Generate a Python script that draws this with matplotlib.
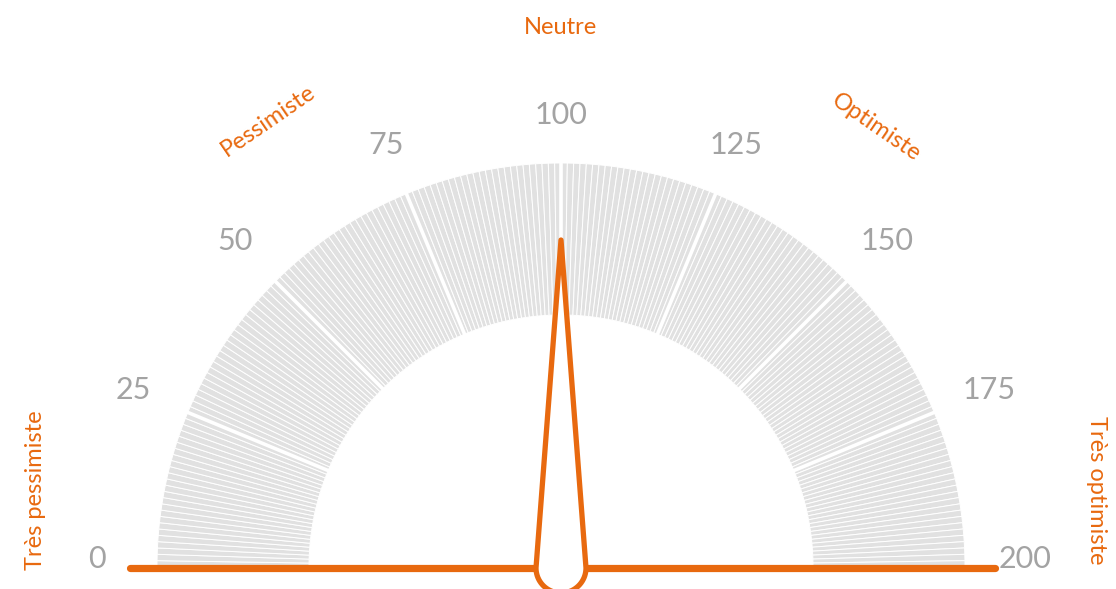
import numpy as np
import matplotlib
matplotlib.use("Agg")
import matplotlib.pyplot as plt
from matplotlib.patches import Wedge, PathPatch
from matplotlib.path import Path

# gauge data
gauge_min, gauge_max = 0, 200
tick_values = [0, 25, 50, 75, 100, 125, 150, 175, 200]
needle_value = 100
zone_labels = ["Très pessimiste", "Pessimiste", "Neutre", "Optimiste", "Très optimiste"]
zone_values = [9.2, 63, 100, 139.6, 190.9]

ORANGE = "#e8690f"
GRAY_TXT = "#a3a3a3"
GRAY_FILL = "#e1e1e1"

plt.rcParams["font.family"] = ["Lato", "DejaVu Sans"]


def val2ang(v):
    return 180.0 * (1 - (v - gauge_min) / (gauge_max - gauge_min))


fig = plt.figure(figsize=(11.16, 5.89), dpi=100)
ax = fig.add_axes([0, 0, 1, 1])
ax.set_xlim(-561, 555)
ax.set_ylim(-22, 567)
ax.set_aspect("equal")
ax.axis("off")

r_in, r_out = 252, 404

# fine wedges, one per unit
for v in range(gauge_min, gauge_max):
    a1, a0 = val2ang(v), val2ang(v + 1)
    ax.add_patch(Wedge((0, 0), r_out, a0, a1, width=r_out - r_in,
                       facecolor=GRAY_FILL, edgecolor="white", linewidth=0.7))

# wider separators at ticks
for v in tick_values[1:-1]:
    a = np.deg2rad(val2ang(v))
    ax.plot([r_in * np.cos(a) * 0.98, r_out * np.cos(a) * 1.01],
            [r_in * np.sin(a) * 0.98, r_out * np.sin(a) * 1.01],
            color="white", linewidth=2.6, solid_capstyle="butt")

# tick labels
for v in tick_values:
    a = np.deg2rad(val2ang(v))
    r = 452 + 12 * abs(np.cos(a))
    ax.text(r * np.cos(a), r * np.sin(a) + (8 if v in (0, 200) else 0), str(v),
            ha="center", va="center", fontsize=22, color=GRAY_TXT)

# zone labels
zone_r = [531, 534, 539, 541, 541]
zone_rot = [90, 34.5, 0, -34.5, -90]
for lab, v, r, rot in zip(zone_labels, zone_values, zone_r, zone_rot):
    a = np.deg2rad(val2ang(v))
    ax.text(r * np.cos(a), r * np.sin(a), lab, ha="center", va="center",
            fontsize=17, color=ORANGE, rotation=rot)

# baseline
ax.plot([-431, 434], [-1, -1], color=ORANGE, linewidth=5.2, solid_capstyle="round", zorder=3)

# needle
na = np.deg2rad(val2ang(needle_value))
tip = (327 * np.cos(na), 327 * np.sin(na))
hub = 25
t = np.linspace(np.pi, 2 * np.pi, 40) + (na - np.pi / 2)
arc = np.column_stack([hub * np.cos(t), hub * np.sin(t) - 1])
verts = np.vstack([[tip], arc, [tip]])
codes = [Path.MOVETO] + [Path.LINETO] * (len(verts) - 2) + [Path.CLOSEPOLY]
ax.add_patch(PathPatch(Path(verts, codes), facecolor="white", edgecolor=ORANGE,
                       linewidth=3.8, joinstyle="round", zorder=4))

fig.savefig("out.png", dpi=100)
